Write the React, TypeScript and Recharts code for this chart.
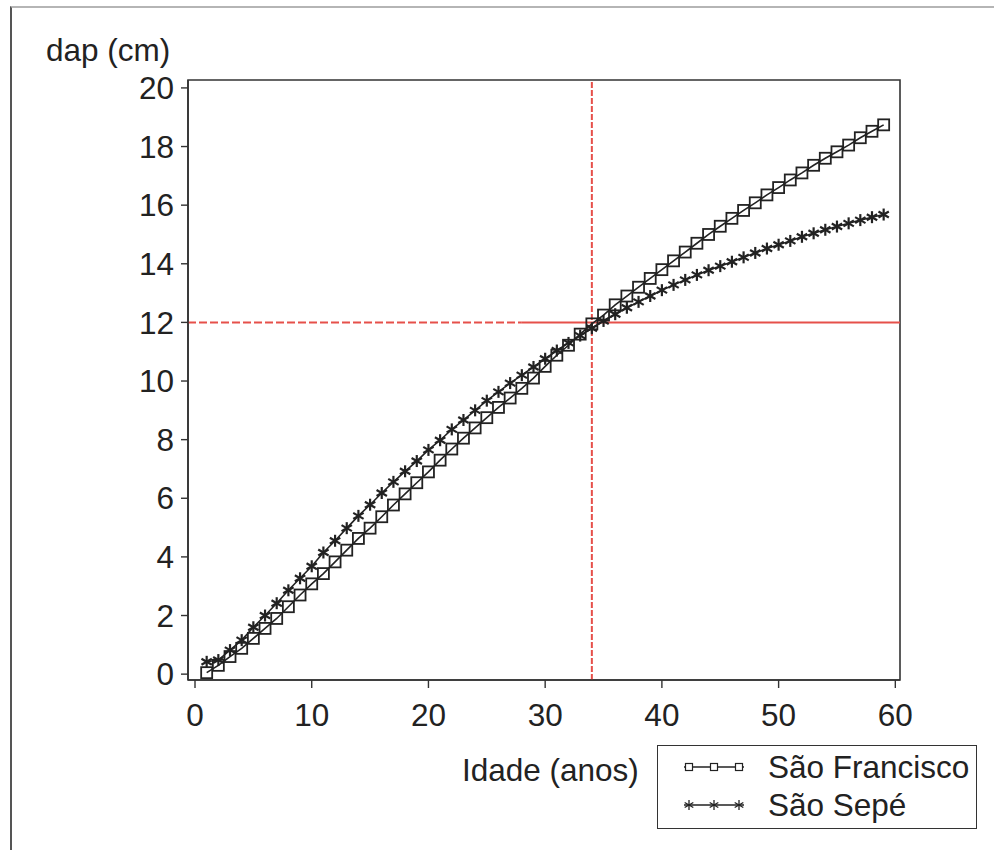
import {
  LineChart,
  Line,
  XAxis,
  YAxis,
  ReferenceLine,
  ReferenceArea,
  Legend,
  Label,
} from "recharts";

// idade (anos)
const ages = [
  1, 2, 3, 4, 5, 6, 7, 8, 9, 10, 11, 12, 13, 14, 15, 16, 17, 18, 19, 20,
  21, 22, 23, 24, 25, 26, 27, 28, 29, 30, 31, 32, 33, 34, 35, 36, 37, 38, 39, 40,
  41, 42, 43, 44, 45, 46, 47, 48, 49, 50, 51, 52, 53, 54, 55, 56, 57, 58, 59,
];

// dap (cm) - São Francisco
const saoFrancisco = [
  0.05, 0.3, 0.6, 0.88, 1.22, 1.56, 1.9, 2.3, 2.7, 3.08,
  3.43, 3.83, 4.23, 4.63, 4.98, 5.37, 5.77, 6.15, 6.53, 6.9,
  7.3, 7.68, 8.05, 8.4, 8.75, 9.1, 9.42, 9.75, 10.1, 10.5,
  10.88, 11.22, 11.6, 11.95, 12.25, 12.6, 12.9, 13.2, 13.5, 13.8,
  14.1, 14.4, 14.7, 15.0, 15.28, 15.55, 15.82, 16.08, 16.35, 16.6,
  16.86, 17.1, 17.36, 17.6, 17.82, 18.05, 18.3, 18.52, 18.74,
];

// dap (cm) - São Sepé
const saoSepe = [
  0.42, 0.48, 0.82, 1.16, 1.6, 2.0, 2.42, 2.86, 3.27, 3.68,
  4.15, 4.55, 4.98, 5.4, 5.78, 6.18, 6.56, 6.92, 7.27, 7.65,
  7.98, 8.35, 8.67, 9.0, 9.33, 9.63, 9.93, 10.2, 10.48, 10.76,
  11.04, 11.3, 11.55, 11.8, 12.05, 12.28, 12.5, 12.7, 12.9, 13.1,
  13.28, 13.45, 13.62, 13.78, 13.92, 14.07, 14.22, 14.37, 14.52, 14.65,
  14.78, 14.92, 15.04, 15.16, 15.27, 15.38, 15.49, 15.59, 15.68,
];

const xTicks = [0, 10, 20, 30, 40, 50, 60];
const yTicks = [0, 2, 4, 6, 8, 10, 12, 14, 16, 18, 20];

// reference lines
const refDap = 12;
const refAge = 34;
const dashedUntil = 28;

const X_DOMAIN = [-0.6, 60.4];
const Y_DOMAIN = [-0.2, 20.27];

const data = ages.map((a, i) => ({ age: a, sf: saoFrancisco[i], ss: saoSepe[i] }));

const FONT = "'Liberation Sans', Arial, sans-serif";
const FS = 31.5;
const INK = "#222";
const RED = "#e6504a";

function SquareDot(props: any) {
  const { cx, cy } = props;
  if (cx == null || cy == null) return null;
  return (
    <rect
      x={cx - 5.5}
      y={cy - 5.5}
      width={11}
      height={11}
      fill="none"
      stroke={INK}
      strokeWidth={1.8}
    />
  );
}

function StarDot(props: any) {
  const { cx, cy } = props;
  if (cx == null || cy == null) return null;
  const r = 6;
  const arms = [90, 30, 150].map((deg) => {
    const t = (deg * Math.PI) / 180;
    return [Math.cos(t) * r, Math.sin(t) * r];
  });
  return (
    <g stroke={INK} strokeWidth={2.2}>
      {arms.map(([dx, dy], i) => (
        <line key={i} x1={cx - dx} y1={cy - dy} x2={cx + dx} y2={cy + dy} />
      ))}
    </g>
  );
}

function LegendBox() {
  const rows = [
    { name: "São Francisco", kind: "square" },
    { name: "São Sepé", kind: "star" },
  ];
  return (
    <div
      style={{
        width: 320,
        height: 84,
        border: "1.5px solid #333",
        boxSizing: "border-box",
        position: "relative",
        fontFamily: FONT,
        fontSize: FS,
        color: INK,
      }}
    >
      {rows.map((r, i) => (
        <div
          key={r.name}
          style={{
            position: "absolute",
            left: 24,
            top: 2 + i * 38,
            height: 38,
            display: "flex",
            alignItems: "center",
            whiteSpace: "nowrap",
          }}
        >
          <svg width={64} height={20} style={{ marginRight: 22 }}>
            <line x1={2} y1={10} x2={62} y2={10} stroke={INK} strokeWidth={1.3} />
            {[7, 32, 57].map((x) =>
              r.kind === "square" ? (
                <rect key={x} x={x - 3.5} y={6.5} width={7} height={7} fill="#fff" stroke={INK} strokeWidth={1.2} />
              ) : (
                <g key={x} stroke={INK} strokeWidth={1.3}>
                  <line x1={x} y1={5} x2={x} y2={15} />
                  <line x1={x - 4.3} y1={7.5} x2={x + 4.3} y2={12.5} />
                  <line x1={x - 4.3} y1={12.5} x2={x + 4.3} y2={7.5} />
                </g>
              )
            )}
          </svg>
          <span>{r.name}</span>
        </div>
      ))}
    </div>
  );
}

export default function App() {
  return (
    <div style={{ position: "absolute", left: 0, top: 0, width: 994, height: 850, background: "#fff" }}>
      {/* outer frame of the figure */}
      <div
        style={{
          position: "absolute",
          left: 10,
          top: 6,
          width: 990,
          height: 850,
          borderTop: "2px solid #b5b5b5",
          borderLeft: "2px solid #555",
        }}
      />
      <LineChart
        width={994}
        height={850}
        data={data}
        margin={{ top: 80, right: 94, bottom: 110, left: 128 }}
        style={{ fontFamily: FONT }}
      >
        <ReferenceArea
          x1={X_DOMAIN[0]}
          x2={X_DOMAIN[1]}
          y1={Y_DOMAIN[0]}
          y2={Y_DOMAIN[1]}
          fill="none"
          stroke="#333"
          strokeWidth={1.6}
          ifOverflow="visible"
        />
        <XAxis
          dataKey="age"
          type="number"
          domain={X_DOMAIN}
          ticks={xTicks}
          allowDataOverflow
          height={60}
          tickSize={8}
          tickMargin={16}
          axisLine={{ stroke: "#333", strokeWidth: 1.6 }}
          tickLine={{ stroke: "#333", strokeWidth: 1.4 }}
          tick={{ fontSize: FS, fill: INK, fontFamily: FONT }}
        >
          <Label
            content={() => (
              <text x={462} y={781} fontSize={FS} fill={INK} fontFamily={FONT}>
                Idade (anos)
              </text>
            )}
          />
        </XAxis>
        <YAxis
          type="number"
          domain={Y_DOMAIN}
          ticks={yTicks}
          allowDataOverflow
          width={60}
          tickSize={7}
          tickMargin={7}
          axisLine={{ stroke: "#333", strokeWidth: 1.6 }}
          tickLine={{ stroke: "#333", strokeWidth: 1.4 }}
          tick={{ fontSize: FS, fill: INK, fontFamily: FONT }}
        >
          <Label
            content={() => (
              <text x={46} y={61} fontSize={FS} fill={INK} fontFamily={FONT}>
                dap (cm)
              </text>
            )}
          />
        </YAxis>
        <ReferenceLine
          segment={[
            { x: X_DOMAIN[0], y: refDap },
            { x: dashedUntil, y: refDap },
          ]}
          stroke={RED}
          strokeWidth={2}
          strokeDasharray="8 3"
        />
        <ReferenceLine
          segment={[
            { x: dashedUntil, y: refDap },
            { x: X_DOMAIN[1], y: refDap },
          ]}
          stroke={RED}
          strokeWidth={2}
        />
        <ReferenceLine x={refAge} stroke={RED} strokeWidth={2} strokeDasharray="6 2" />
        <Line
          type="linear"
          dataKey="ss"
          name="São Sepé"
          stroke={INK}
          strokeWidth={1.6}
          dot={<StarDot />}
          isAnimationActive={false}
        />
        <Line
          type="linear"
          dataKey="sf"
          name="São Francisco"
          stroke={INK}
          strokeWidth={1.6}
          dot={<SquareDot />}
          isAnimationActive={false}
        />
        <Legend
          layout="vertical"
          align="center"
          verticalAlign="middle"
          wrapperStyle={{ left: 657, top: 745, width: 320, height: 84 }}
          content={() => <LegendBox />}
        />
      </LineChart>
    </div>
  );
}
